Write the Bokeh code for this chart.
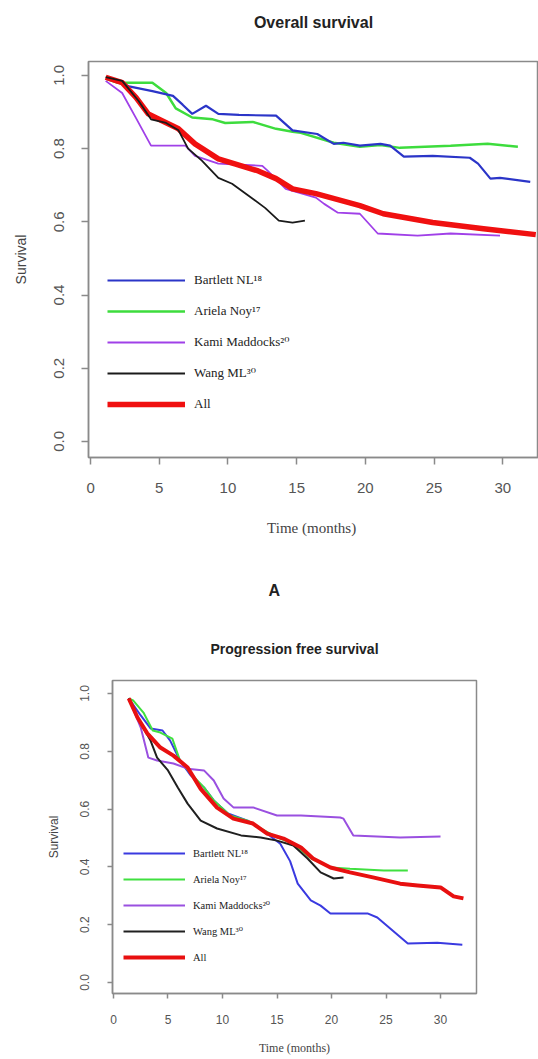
from bokeh.plotting import figure
from bokeh.models import Range1d, FixedTicker, Legend, LegendItem, Title
from bokeh.embed import file_html
from bokeh.resources import INLINE

# ---------------- data ----------------
series_names = ["Bartlett NL\u00b9\u2078", "Ariela Noy\u00b9\u2077", "Kami Maddocks\u00b2\u2070",
                "Wang ML\u00b3\u2070", "All"]
x_ticks = [0, 5, 10, 15, 20, 25, 30]
y_ticks = [0.0, 0.2, 0.4, 0.6, 0.8, 1.0]
y_tick_labels = ["0.0", "0.2", "0.4", "0.6", "0.8", "1.0"]

# Overall survival (panel A)
os_bartlett_t = [1.3, 2.8, 4.5, 6.0, 6.7, 7.4, 8.4, 9.3, 10.8, 13.5, 14.7, 16.5, 17.7, 18.4, 19.6,
                 21.1, 21.8, 22.8, 24.9, 27.6, 28.2, 29.1, 29.8, 32.0]
os_bartlett_s = [0.99, 0.97, 0.957, 0.944, 0.92, 0.895, 0.917, 0.895, 0.892, 0.89, 0.85, 0.84, 0.813,
                 0.816, 0.808, 0.813, 0.808, 0.778, 0.78, 0.775, 0.759, 0.718, 0.72, 0.709]
os_ariela_t = [1.2, 2.0, 4.5, 5.5, 6.2, 7.4, 8.9, 9.8, 11.8, 13.5, 14.7, 15.3, 17.7, 19.6, 21.1,
               22.5, 26.2, 28.9, 31.1]
os_ariela_s = [0.99, 0.98, 0.98, 0.952, 0.91, 0.885, 0.88, 0.87, 0.873, 0.854, 0.846, 0.843, 0.816,
               0.805, 0.81, 0.802, 0.808, 0.813, 0.805]
os_kami_t = [1.1, 2.3, 3.3, 4.4, 6.9, 7.6, 9.3, 12.5, 12.9, 14.2, 16.4, 17.0, 18.0, 19.6, 20.9,
             23.8, 26.2, 29.8]
os_kami_s = [0.985, 0.952, 0.884, 0.808, 0.808, 0.78, 0.759, 0.753, 0.739, 0.69, 0.666, 0.649, 0.625,
             0.622, 0.568, 0.562, 0.568, 0.562]
os_wang_t = [1.1, 2.3, 3.5, 4.4, 5.5, 6.4, 7.1, 8.1, 9.3, 10.3, 11.8, 12.7, 13.7, 14.7, 15.6]
os_wang_s = [0.995, 0.985, 0.93, 0.88, 0.87, 0.85, 0.80, 0.767, 0.72, 0.704, 0.663, 0.638, 0.603,
             0.598, 0.603]
os_all_t = [1.1, 2.3, 3.3, 4.2, 5.2, 6.4, 7.6, 9.3, 10.5, 12.2, 13.5, 14.7, 16.4, 19.6, 21.3, 24.9,
            28.6, 32.4]
os_all_s = [0.995, 0.98, 0.94, 0.895, 0.876, 0.854, 0.813, 0.772, 0.758, 0.739, 0.718, 0.69, 0.677,
            0.644, 0.622, 0.598, 0.581, 0.565]

# Progression free survival
pfs_bartlett_t = [1.4, 2.5, 3.4, 4.5, 5.2, 6.1, 7.1, 8.3, 9.2, 10.5, 12.3, 14.1, 15.3, 16.2, 16.9,
                  18.1, 19.0, 19.9, 23.3, 24.2, 27.0, 29.7, 32.0]
pfs_bartlett_s = [0.983, 0.924, 0.879, 0.872, 0.837, 0.768, 0.716, 0.675, 0.63, 0.585, 0.56, 0.515,
                  0.48, 0.42, 0.342, 0.284, 0.266, 0.239, 0.239, 0.225, 0.135, 0.138, 0.131]
pfs_ariela_t = [1.4, 1.8, 2.75, 3.6, 4.3, 5.4, 6.1, 7.1, 8.3, 9.2, 10.7, 12.3, 13.5, 15.0, 16.5,
                18.1, 19.9, 21.7, 24.8, 27.0]
pfs_ariela_s = [0.983, 0.976, 0.934, 0.872, 0.865, 0.844, 0.768, 0.723, 0.675, 0.63, 0.578, 0.56,
                0.533, 0.502, 0.48, 0.43, 0.398, 0.394, 0.388, 0.388]
pfs_kami_t = [1.4, 1.6, 2.5, 3.2, 4.0, 5.5, 6.8, 8.3, 9.2, 10.1, 11.0, 12.8, 15.0, 17.2, 20.8,
              21.1, 22.0, 26.3, 30.0]
pfs_kami_s = [0.983, 0.965, 0.882, 0.778, 0.768, 0.758, 0.74, 0.734, 0.699, 0.637, 0.606, 0.606,
              0.578, 0.578, 0.571, 0.567, 0.509, 0.502, 0.505]
pfs_wang_t = [1.4, 2.5, 3.4, 4.0, 5.0, 5.9, 6.8, 8.0, 9.5, 11.7, 13.5, 15.0, 16.5, 17.8, 19.0,
              20.2, 21.1]
pfs_wang_s = [0.983, 0.896, 0.837, 0.778, 0.734, 0.675, 0.619, 0.56, 0.533, 0.509, 0.502, 0.491,
              0.474, 0.429, 0.381, 0.36, 0.363]
pfs_all_t = [1.4, 2.2, 3.1, 4.3, 5.5, 6.8, 8.0, 9.5, 11.0, 12.8, 14.1, 15.6, 17.2, 18.3, 19.9,
             21.7, 23.9, 26.3, 27.9, 30.0, 31.2, 32.1]
pfs_all_s = [0.983, 0.917, 0.862, 0.813, 0.785, 0.744, 0.67, 0.605, 0.567, 0.55, 0.515, 0.498,
             0.467, 0.429, 0.398, 0.381, 0.363, 0.342, 0.336, 0.329, 0.298, 0.291]

# ---------------- styles ----------------
AX = "#8a8a8a"
TICK_TXT = "#555555"
LEGEND_FONT = "'Liberation Serif', 'DejaVu Serif', serif"


def style_axes(p, tick_out, tick_font, x_standoff, y_standoff, xlab, xlab_font, xlab_standoff,
               ylab_font, ylab_standoff):
    p.xgrid.visible = False
    p.ygrid.visible = False
    p.outline_line_color = AX
    p.outline_line_width = 1.5
    p.background_fill_color = "white"
    p.border_fill_color = "white"
    for ax in (p.xaxis[0], p.yaxis[0]):
        ax.axis_line_color = AX
        ax.axis_line_width = 1.5
        ax.major_tick_line_color = AX
        ax.major_tick_line_width = 1.5
        ax.major_tick_out = tick_out
        ax.major_tick_in = 0
        ax.minor_tick_line_color = None
        ax.major_label_text_color = TICK_TXT
        ax.major_label_text_font = "Liberation Sans"
        ax.major_label_text_font_size = tick_font
        ax.axis_label_text_font_style = "normal"
        ax.axis_label_text_color = "#444444"
    p.xaxis.major_label_standoff = x_standoff
    p.yaxis.major_label_standoff = y_standoff
    p.xaxis.ticker = FixedTicker(ticks=x_ticks)
    p.yaxis.ticker = FixedTicker(ticks=y_ticks)
    p.yaxis.major_label_overrides = {t: s for t, s in zip(y_ticks, y_tick_labels)}
    p.yaxis.major_label_orientation = "vertical"
    p.xaxis.axis_label = xlab
    p.xaxis.axis_label_text_font = "Liberation Serif"
    p.xaxis.axis_label_text_font_size = xlab_font
    p.xaxis.axis_label_standoff = xlab_standoff
    p.yaxis.axis_label = "Survival"
    p.yaxis.axis_label_text_font = "Liberation Sans"
    p.yaxis.axis_label_text_font_size = ylab_font
    p.yaxis.axis_label_standoff = ylab_standoff


def add_legend(p, renderers, loc, gw, gh, spacing, standoff, fsize):
    items = [LegendItem(label=name, renderers=[r]) for name, r in zip(series_names, renderers)]
    leg = Legend(items=items, location=loc, glyph_width=gw, glyph_height=gh, label_height=gh,
                 spacing=spacing, padding=10, margin=0, label_standoff=standoff,
                 label_text_font=LEGEND_FONT, label_text_font_size=fsize,
                 label_text_color="#222222", background_fill_alpha=0, border_line_alpha=0)
    p.add_layout(leg)


def spacer(gap):
    # blank side panel used only to move a heading away from the plot frame
    return Title(text=" ", text_font_size="1px", standoff=gap, text_color="white")


def heading(text, size, **kw):
    return Title(text=text, text_font="Liberation Sans", text_font_style="bold",
                 text_font_size=size, text_color="#222222", standoff=4, **kw)


# ---------------- panel A: overall survival ----------------
p1 = figure(width=538, height=615, x_range=Range1d(-0.15, 32.6), y_range=Range1d(-0.044, 1.038),
            output_backend="svg", toolbar_location=None, title_location=None,
            min_border_left=88, min_border_right=0, min_border_top=61, min_border_bottom=158)
style_axes(p1, 7, "15px", 18, 17, "Time  (months)", "15px", 24, "14px", 23)

p1.add_layout(spacer(26), "above")
p1.add_layout(heading("Overall survival", "16px", align="center"), "above")

r_ar = p1.line(os_ariela_t, os_ariela_s, line_color="#3ddc3d", line_width=2.5)
r_ba = p1.line(os_bartlett_t, os_bartlett_s, line_color="#2b35c8", line_width=2.2)
r_ka = p1.line(os_kami_t, os_kami_s, line_color="#a040e8", line_width=1.8)
r_al = p1.line(os_all_t, os_all_s, line_color="#f01010", line_width=5.5, line_join="round")
r_wa = p1.line(os_wang_t, os_wang_s, line_color="#1a1a1a", line_width=1.8)

add_legend(p1, [r_ba, r_ar, r_ka, r_wa, r_al], (9, 33), 78, 20, 11, 9, "13px")

p1.add_layout(spacer(36), "below")
p1.add_layout(heading("A", "16px", align="left", offset=180), "below")

# ---------------- panel: progression free survival ----------------
p2 = figure(width=538, height=444, x_range=Range1d(-0.09, 33.3), y_range=Range1d(-0.038, 1.045),
            output_backend="svg", toolbar_location=None, title_location=None,
            min_border_left=112, min_border_right=62, min_border_top=65, min_border_bottom=66)
style_axes(p2, 5, "12px", 16, 18, "Time (months)", "12px", 14, "12px", 17)

p2.add_layout(spacer(19), "above")
p2.add_layout(heading("Progression free survival", "14px", align="center"), "above")

q_ba = p2.line(pfs_bartlett_t, pfs_bartlett_s, line_color="#3a3ae0", line_width=2)
q_ar = p2.line(pfs_ariela_t, pfs_ariela_s, line_color="#40e040", line_width=2)
q_ka = p2.line(pfs_kami_t, pfs_kami_s, line_color="#9a50e0", line_width=2)
q_wa = p2.line(pfs_wang_t, pfs_wang_s, line_color="#202020", line_width=2)
q_al = p2.line(pfs_all_t, pfs_all_s, line_color="#e81010", line_width=4, line_join="round")

add_legend(p2, [q_ba, q_ar, q_ka, q_wa, q_al], (1, 18), 62, 16, 10, 8, "10.5px")

open("out.html", "w").write(file_html([p1, p2], INLINE))
